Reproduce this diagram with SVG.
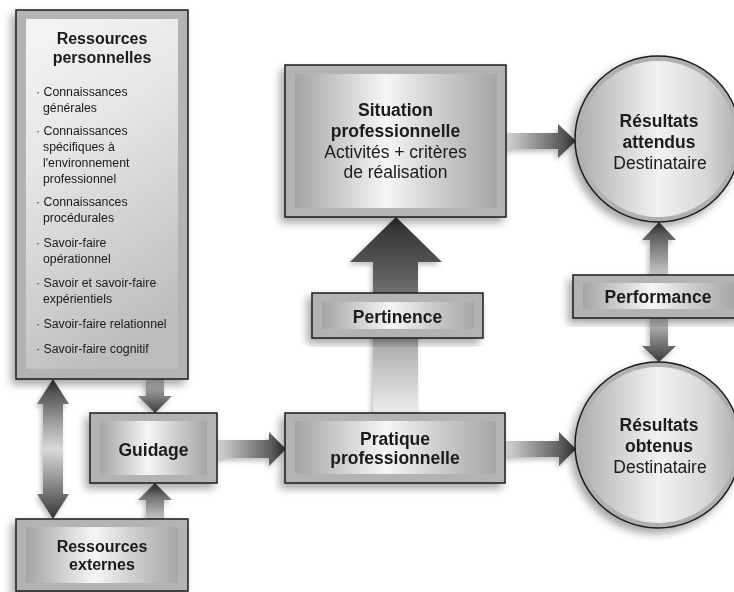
<svg xmlns="http://www.w3.org/2000/svg" width="734" height="592" viewBox="0 0 734 592">
<defs>
  <filter id="sh" x="-20%" y="-20%" width="140%" height="140%">
    <feDropShadow dx="-4" dy="5" stdDeviation="4" flood-color="#000" flood-opacity="0.35"/>
  </filter>
  <filter id="ash" x="-30%" y="-30%" width="160%" height="160%">
    <feDropShadow dx="-2" dy="3" stdDeviation="2.5" flood-color="#000" flood-opacity="0.25"/>
  </filter>
  <linearGradient id="panel" x1="0" y1="0" x2="1" y2="0">
    <stop offset="0" stop-color="#a4a4a4"/>
    <stop offset="0.25" stop-color="#d2d2d2"/>
    <stop offset="0.45" stop-color="#f6f6f6"/>
    <stop offset="0.7" stop-color="#cfcfcf"/>
    <stop offset="1" stop-color="#a6a6a6"/>
  </linearGradient>
  <linearGradient id="panelV" x1="0.2" y1="0" x2="0.5" y2="1">
    <stop offset="0" stop-color="#f3f3f3"/>
    <stop offset="0.35" stop-color="#e6e6e6"/>
    <stop offset="1" stop-color="#bcbcbc"/>
  </linearGradient>
  <linearGradient id="disk" x1="0" y1="0" x2="1" y2="0">
    <stop offset="0" stop-color="#b0b0b0"/>
    <stop offset="0.5" stop-color="#f2f2f2"/>
    <stop offset="0.8" stop-color="#d8d8d8"/>
    <stop offset="1" stop-color="#b4b4b4"/>
  </linearGradient>
  <linearGradient id="aR" x1="0" y1="0" x2="1" y2="0">
    <stop offset="0" stop-color="#d6d6d6"/>
    <stop offset="1" stop-color="#3a3a3a"/>
  </linearGradient>
  <linearGradient id="aU" x1="0" y1="1" x2="0" y2="0">
    <stop offset="0" stop-color="#c8c8c8"/>
    <stop offset="1" stop-color="#3a3a3a"/>
  </linearGradient>
  <linearGradient id="aD" x1="0" y1="0" x2="0" y2="1">
    <stop offset="0" stop-color="#c8c8c8"/>
    <stop offset="1" stop-color="#3a3a3a"/>
  </linearGradient>
  <linearGradient id="aDbl" x1="0" y1="0" x2="0" y2="1">
    <stop offset="0" stop-color="#333333"/>
    <stop offset="0.25" stop-color="#8a8a8a"/>
    <stop offset="0.5" stop-color="#dadada"/>
    <stop offset="0.75" stop-color="#8a8a8a"/>
    <stop offset="1" stop-color="#333333"/>
  </linearGradient>
  <linearGradient id="aBig" x1="0" y1="0" x2="0" y2="1">
    <stop offset="0" stop-color="#2e2e2e"/>
    <stop offset="0.3" stop-color="#5e5e5e"/>
    <stop offset="0.62" stop-color="#a8a8a8"/>
    <stop offset="1" stop-color="#eeeeee"/>
  </linearGradient>
</defs>
<style>
  .box { fill: #b3b3b3; stroke: #1e1e1e; stroke-width: 1.5; }
  .pan { fill: url(#panel); }
  .ring { fill: #b0b0b0; stroke: #1a1a1a; stroke-width: 1.5; }
  .t { font-family: "Liberation Sans", Arial, sans-serif; fill: #1a1a1a; text-anchor: middle; }
  .b { font-weight: bold; font-size: 17.5px; }
  .r { font-size: 17.5px; }
  .bs { font-weight: bold; font-size: 16px; }
  .li { font-family: "Liberation Sans", Arial, sans-serif; fill: #1a1a1a; font-size: 12.3px; }
</style>

<g id="connectors" filter="url(#ash)">
  <path d="M43,404 H37 L53,379 L69,404 H63 V494 H69 L53,519 L37,494 H43 Z" fill="url(#aDbl)"/>
  <path d="M146,379 V396 H138 L155,413 L172,396 H164 V379 Z" fill="url(#aD)"/>
  <path d="M146,519 V500 H138 L155,483 L172,500 H164 V519 Z" fill="url(#aU)"/>
  <path d="M217,440 H269 V432 L286,449 L269,466 V458 H217 Z" fill="url(#aR)"/>
  <path d="M505,441 H559 V432 L576,449 L559,466 V457 H505 Z" fill="url(#aR)"/>
  <path d="M506,133 H558 V124 L576,141 L558,158 V149 H506 Z" fill="url(#aR)"/>
  <path d="M373,413 V262 H350 L396,217 L442,262 H418 V413 Z" fill="url(#aBig)"/>
  <path d="M650,275 V240 H642 L659,222 L676,240 H668 V275 Z" fill="url(#aU)"/>
  <path d="M650,318 V346 H642 L659,362 L676,346 H668 V318 Z" fill="url(#aD)"/>
</g>

<g id="ressources-personnelles" filter="url(#sh)">
  <rect class="box" x="16" y="10" width="172" height="369"/>
  <rect x="26" y="19" width="152" height="350" fill="url(#panelV)"/>
  <text class="t bs" x="102" y="44">Ressources</text>
  <text class="t bs" x="102" y="63">personnelles</text>
  <text class="li" x="36" y="96">· Connaissances</text>
  <text class="li" x="43" y="112">générales</text>
  <text class="li" x="36" y="135">· Connaissances</text>
  <text class="li" x="43" y="151">spécifiques à</text>
  <text class="li" x="43" y="167">l'environnement</text>
  <text class="li" x="43" y="183">professionnel</text>
  <text class="li" x="36" y="206">· Connaissances</text>
  <text class="li" x="43" y="222">procédurales</text>
  <text class="li" x="36" y="247">· Savoir-faire</text>
  <text class="li" x="43" y="263">opérationnel</text>
  <text class="li" x="36" y="287">· Savoir et savoir-faire</text>
  <text class="li" x="43" y="303">expérientiels</text>
  <text class="li" x="36" y="328">· Savoir-faire relationnel</text>
  <text class="li" x="36" y="353">· Savoir-faire cognitif</text>
</g>

<g id="guidage" filter="url(#sh)">
  <rect class="box" x="90" y="413" width="127" height="70"/>
  <rect class="pan" x="100" y="421" width="107" height="54"/>
  <text class="t b" x="153.5" y="456">Guidage</text>
</g>

<g id="ressources-externes" filter="url(#sh)">
  <rect class="box" x="16" y="519" width="172" height="72"/>
  <rect class="pan" x="26" y="527" width="152" height="56"/>
  <text class="t bs" x="102" y="552">Ressources</text>
  <text class="t bs" x="102" y="570">externes</text>
</g>

<g id="situation" filter="url(#sh)">
  <rect class="box" x="285" y="65" width="221" height="152"/>
  <rect class="pan" x="295" y="74" width="202" height="134"/>
  <text class="t b" x="395.5" y="116">Situation</text>
  <text class="t b" x="395.5" y="137">professionnelle</text>
  <text class="t r" x="395.5" y="158">Activités + critères</text>
  <text class="t r" x="395.5" y="178">de réalisation</text>
</g>

<g id="pertinence" filter="url(#sh)">
  <rect class="box" x="312" y="293" width="171" height="45"/>
  <rect class="pan" x="322" y="302" width="152" height="27"/>
  <text class="t b" x="397.5" y="323">Pertinence</text>
</g>

<g id="pratique" filter="url(#sh)">
  <rect class="box" x="285" y="413" width="220" height="70"/>
  <rect class="pan" x="295" y="421" width="201" height="53"/>
  <text class="t b" x="395" y="445">Pratique</text>
  <text class="t b" x="395" y="464">professionnelle</text>
</g>

<g id="performance" filter="url(#sh)">
  <rect class="box" x="573" y="275" width="172" height="43"/>
  <rect class="pan" x="583" y="283" width="152" height="26"/>
  <text class="t b" x="658" y="303">Performance</text>
</g>

<g id="resultats-attendus" filter="url(#sh)">
  <circle class="ring" cx="658" cy="139" r="83"/>
  <circle cx="658" cy="139" r="78" fill="url(#disk)"/>
  <text class="t b" x="659" y="127">Résultats</text>
  <text class="t b" x="659" y="148">attendus</text>
  <text class="t r" x="660" y="169">Destinataire</text>
</g>

<g id="resultats-obtenus" filter="url(#sh)">
  <circle class="ring" cx="658" cy="445" r="83"/>
  <circle cx="658" cy="445" r="78" fill="url(#disk)"/>
  <text class="t b" x="659" y="431">Résultats</text>
  <text class="t b" x="659" y="452">obtenus</text>
  <text class="t r" x="660" y="473">Destinataire</text>
</g>
</svg>
